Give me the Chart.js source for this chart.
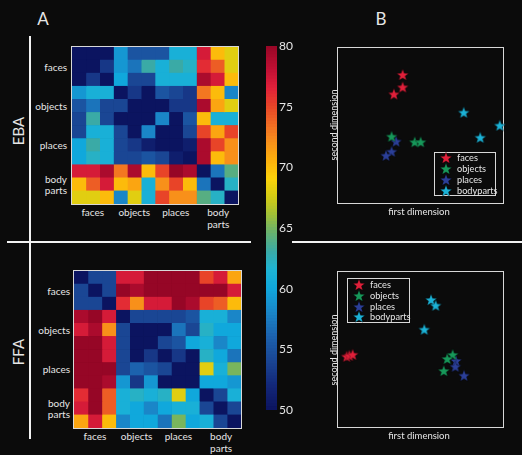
<!DOCTYPE html>
<html>
<head>
<meta charset="utf-8">
<script src="https://cdn.jsdelivr.net/npm/chart.js@4/dist/chart.umd.min.js"></script>
<style>
  body { margin: 0; background: #0b0b0b; }
  #fig { position: relative; width: 522px; height: 455px; background: #0b0b0b; overflow: hidden;
         font-family: Lato, "Open Sans", sans-serif; color: #e6e6e6; }
  canvas, .t, .ln, .box { position: absolute; }
  .t { white-space: nowrap; font-size: 10px; line-height: 1; }
  .ln { background: #f2f2f2; }
  .box { border: 1.5px solid #d8d8d8; box-sizing: border-box; }
</style>
</head>
<body>
<div id="fig"></div>
<script>
// category labels
const conditions = ['faces', 'objects', 'places', 'body parts'];
const seriesNames = ['faces', 'objects', 'places', 'bodyparts'];
const seriesColors = ['#e0203a', '#17985a', '#2b3f98', '#1cb2d6'];
const colorbarTicks = [50, 55, 60, 65, 70, 75, 80];

// EBA dissimilarity matrix (12 x 12)
const ebaMatrix = [
  [50, 50, 50, 59, 55, 55, 55, 61, 61, 77, 70, 68],
  [50, 50, 53, 59, 57, 63, 61, 63, 62, 76, 74, 68],
  [50, 53, 50, 60, 54, 54, 61, 61, 61, 79, 77, 70],
  [59, 61, 61, 50, 53, 50, 55, 54, 53, 73, 70, 58],
  [55, 57, 54, 54, 50, 50, 50, 53, 53, 79, 71, 68],
  [54, 63, 54, 50, 50, 50, 58, 50, 55, 70, 61, 61],
  [54, 61, 61, 54, 50, 58, 50, 50, 54, 75, 71, 75],
  [60, 63, 61, 54, 53, 51, 50, 50, 51, 79, 75, 72],
  [60, 62, 61, 54, 54, 55, 54, 51, 50, 79, 70, 72],
  [77, 77, 79, 73, 79, 70, 75, 80, 79, 50, 57, 64],
  [70, 74, 77, 70, 71, 61, 72, 75, 70, 57, 50, 62],
  [68, 68, 70, 58, 68, 61, 75, 72, 72, 64, 62, 50]
];

// FFA dissimilarity matrix (12 x 12)
const ffaMatrix = [
  [50, 54, 54, 77, 77, 80, 80, 80, 80, 75, 77, 71],
  [54, 50, 54, 80, 79, 80, 80, 80, 80, 80, 80, 77],
  [54, 54, 50, 76, 72, 77, 77, 80, 79, 75, 74, 70],
  [79, 80, 77, 50, 54, 54, 54, 54, 55, 61, 61, 58],
  [77, 79, 72, 54, 50, 50, 50, 57, 54, 62, 60, 60],
  [80, 80, 77, 54, 50, 50, 54, 55, 60, 61, 58, 60],
  [80, 80, 77, 54, 50, 53, 50, 53, 50, 62, 60, 57],
  [80, 80, 80, 54, 56, 55, 54, 50, 50, 68, 61, 65],
  [80, 80, 79, 59, 53, 59, 50, 50, 50, 60, 60, 59],
  [76, 80, 74, 61, 62, 61, 62, 68, 60, 50, 54, 61],
  [77, 80, 74, 61, 60, 58, 60, 61, 61, 54, 50, 54],
  [71, 77, 70, 58, 60, 60, 57, 65, 60, 61, 54, 50]
];

// MDS coordinates, EBA
const ebaFaces = [{x: 0.392, y: 0.826}, {x: 0.392, y: 0.746}, {x: 0.339, y: 0.701}];
const ebaObjects = [{x: 0.325, y: 0.428}, {x: 0.465, y: 0.392}, {x: 0.501, y: 0.392}];
const ebaPlaces = [{x: 0.352, y: 0.396}, {x: 0.325, y: 0.331}, {x: 0.291, y: 0.305}];
const ebaBodyparts = [{x: 0.762, y: 0.583}, {x: 0.862, y: 0.421}, {x: 0.98, y: 0.499}];

// MDS coordinates, FFA
const ffaFaces = [{x: 0.053, y: 0.454}, {x: 0.069, y: 0.46}, {x: 0.089, y: 0.466}];
const ffaObjects = [{x: 0.695, y: 0.465}, {x: 0.662, y: 0.439}, {x: 0.641, y: 0.361}];
const ffaPlaces = [{x: 0.715, y: 0.426}, {x: 0.711, y: 0.389}, {x: 0.764, y: 0.331}];
const ffaBodyparts = [{x: 0.564, y: 0.819}, {x: 0.592, y: 0.783}, {x: 0.523, y: 0.628}];

// jet-like colormap stops
const cmapValues = [50, 52, 54, 56, 58, 60, 61.5, 63, 64.5, 66, 67.5, 69, 70.5, 72, 73.5, 75, 76.5, 78, 80];
const cmapColors = ['#0b1460', '#13287a', '#1a4694', '#1c62ae', '#1a86c8', '#10a8dc', '#1eb4d4',
  '#3aaaa6', '#66b070', '#a0c038', '#d4cc14', '#fcd20a', '#fcb00c', '#f8901a', '#f06a24',
  '#e84428', '#e0203a', '#c01034', '#960626'];

const fig = document.getElementById('fig');

function hexToRgb(h) {
  return [parseInt(h.slice(1, 3), 16), parseInt(h.slice(3, 5), 16), parseInt(h.slice(5, 7), 16)];
}

function colormap(v) {
  if (v <= cmapValues[0]) return cmapColors[0];
  for (let i = 1; i < cmapValues.length; i++) {
    if (v <= cmapValues[i]) {
      const t = (v - cmapValues[i - 1]) / (cmapValues[i] - cmapValues[i - 1]);
      const a = hexToRgb(cmapColors[i - 1]), b = hexToRgb(cmapColors[i]);
      const c = a.map((x, k) => Math.round(x + (b[k] - x) * t));
      return `rgb(${c[0]},${c[1]},${c[2]})`;
    }
  }
  return cmapColors[cmapColors.length - 1];
}

function addText(txt, x, y, opts = {}) {
  const d = document.createElement('div');
  d.className = 't';
  d.textContent = txt;
  d.style.left = x + 'px';
  d.style.top = y + 'px';
  if (opts.size) d.style.fontSize = opts.size + 'px';
  let tr = opts.align === 'right' ? 'translate(-100%,-50%)' : opts.align === 'left' ? 'translate(0,-50%)' : 'translate(-50%,-50%)';
  if (opts.rotate) tr += ' rotate(-90deg)';
  d.style.transform = tr;
  fig.appendChild(d);
  return d;
}

function addLine(x, y, w, h) {
  const d = document.createElement('div');
  d.className = 'ln';
  Object.assign(d.style, { left: x + 'px', top: y + 'px', width: w + 'px', height: h + 'px' });
  fig.appendChild(d);
}

function addBox(x, y, w, h) {
  const d = document.createElement('div');
  d.className = 'box';
  Object.assign(d.style, { left: x + 'px', top: y + 'px', width: w + 'px', height: h + 'px' });
  fig.appendChild(d);
}

function addCanvas(x, y, w, h) {
  const c = document.createElement('canvas');
  c.width = w; c.height = h;
  c.style.left = x + 'px'; c.style.top = y + 'px';
  fig.appendChild(c);
  return c.getContext('2d');
}

// heatmap drawn as horizontal stacked bars: one dataset per column
function heatmap(matrix, x, y, w, h) {
  addBox(x - 1, y - 1, w + 2, h + 2);
  const rows = matrix.map((_, i) => 'r' + i);
  const datasets = matrix[0].map((_, j) => ({
    data: rows.map(() => 1),
    backgroundColor: matrix.map(r => colormap(r[j])),
    borderWidth: 0,
    barPercentage: 1,
    categoryPercentage: 1
  }));
  new Chart(addCanvas(x, y, w, h), {
    type: 'bar',
    data: { labels: rows, datasets },
    options: {
      indexAxis: 'y',
      responsive: false,
      animation: false,
      layout: { padding: 0 },
      plugins: { legend: { display: false }, tooltip: { enabled: false } },
      scales: {
        x: { type: 'linear', min: 0, max: 12, stacked: true, display: false },
        y: { stacked: true, display: false }
      }
    }
  });
}

function starImage(color) {
  const c = document.createElement('canvas');
  c.width = 14; c.height = 14;
  const g = c.getContext('2d');
  g.beginPath();
  for (let i = 0; i < 10; i++) {
    const r = i % 2 === 0 ? 6.2 : 2.6;
    const a = -Math.PI / 2 + i * Math.PI / 5;
    const px = 7 + r * Math.cos(a), py = 7.3 + r * Math.sin(a);
    i === 0 ? g.moveTo(px, py) : g.lineTo(px, py);
  }
  g.closePath();
  g.fillStyle = color;
  g.fill();
  g.lineWidth = 0.8;
  g.strokeStyle = 'rgba(0,0,0,0.35)';
  g.stroke();
  return c;
}

const stars = seriesColors.map(starImage);

function scatter(groups, x, y, w, h) {
  addBox(x - 1, y - 1, w + 2, h + 2);
  const pad = 8;
  new Chart(addCanvas(x - pad, y - pad, w + 2 * pad, h + 2 * pad), {
    type: 'scatter',
    data: {
      datasets: groups.map((pts, i) => ({
        label: seriesNames[i],
        data: pts,
        pointStyle: stars[i],
        clip: false
      }))
    },
    options: {
      responsive: false,
      animation: false,
      layout: { padding: pad },
      plugins: { legend: { display: false }, tooltip: { enabled: false } },
      scales: {
        x: { type: 'linear', min: 0, max: 1, display: false },
        y: { type: 'linear', min: 0, max: 1, display: false }
      }
    }
  });
}

function legend(x, y, w, h, starX, textX, rowYs) {
  addBox(x, y, w, h);
  seriesNames.forEach((n, i) => {
    const img = document.createElement('img');
    img.src = stars[i].toDataURL();
    img.style.position = 'absolute';
    img.style.left = (starX - 7) + 'px';
    img.style.top = (rowYs[i] - 7) + 'px';
    fig.appendChild(img);
    addText(n, textX, rowYs[i], { align: 'left', size: 9.2 });
  });
}

// colorbar: floating bars stacked on one category
function colorbar(x, y, w, h) {
  const step = 0.25;
  const segs = [];
  for (let v = 50; v < 80; v += step) segs.push(v);
  const padTop = 10, padBottom = 10, padLeft = 4, axisW = 30;
  new Chart(addCanvas(x - padLeft, y - padTop, padLeft + w + axisW, h + padTop + padBottom), {
    type: 'bar',
    data: {
      labels: ['c'],
      datasets: segs.map(v => ({
        data: [[v, v + step + 0.05]],
        backgroundColor: colormap(v + step / 2),
        borderWidth: 0,
        grouped: false,
        barPercentage: 1,
        categoryPercentage: 1
      }))
    },
    options: {
      responsive: false,
      animation: false,
      layout: { padding: { top: padTop, bottom: padBottom, left: padLeft, right: 0 } },
      plugins: { legend: { display: false }, tooltip: { enabled: false } },
      scales: {
        x: { display: false },
        y: {
          position: 'right', min: 50, max: 80,
          afterFit: s => { s.width = axisW; },
          afterBuildTicks: s => { s.ticks = colorbarTicks.map(v => ({ value: v })); },
          grid: { display: false, drawTicks: false },
          border: { display: false },
          ticks: { color: '#e6e6e6', padding: 2, font: { family: 'Lato', size: 12 } }
        }
      }
    }
  });
}

// frame lines and panel letters
addLine(29, 36, 2, 403);
addLine(7, 241, 244, 2);
addLine(292, 241, 230, 2);
addText('A', 43, 18, { size: 17 });
addText('B', 381, 18, { size: 17 });
addText('EBA', 18, 131, { size: 15, rotate: true });
addText('FFA', 18, 352, { size: 15, rotate: true });

// panel A
heatmap(ebaMatrix, 72, 47, 166, 157);
heatmap(ffaMatrix, 74, 271, 167, 157);

function matrixLabels(bx, by, bw, bh, rowRight, colY) {
  const ch = bh / 12, cw = bw / 12;
  conditions.forEach((c, k) => {
    const cy = by + ch * (3 * k + 1.5);
    const cx = bx + cw * (3 * k + 1.5);
    if (c === 'body parts') {
      addText('body', rowRight, cy - 5.5, { align: 'right' });
      addText('parts', rowRight, cy + 5.5, { align: 'right' });
      addText('body', cx + 1, colY);
      addText('parts', cx + 1, colY + 11.5);
    } else {
      addText(c, rowRight, cy, { align: 'right' });
      addText(c, cx, colY);
    }
  });
}
matrixLabels(72, 47, 166, 157, 67, 212);
matrixLabels(74, 271, 167, 157, 70, 436);

colorbar(266, 46, 11, 364);

// panel B
scatter([ebaFaces, ebaObjects, ebaPlaces, ebaBodyparts], 338, 48, 165, 155);
scatter([ffaFaces, ffaObjects, ffaPlaces, ffaBodyparts], 338, 272, 165, 155);
legend(434, 152, 62, 44, 446, 457, [158, 169, 180, 191]);
legend(347, 278, 63, 45, 359, 370, [285, 296, 306.5, 317]);
addText('first dimension', 419, 212, { size: 9.5 });
addText('first dimension', 419, 436, { size: 9.5 });
addText('second dimension', 333, 125, { size: 9, rotate: true });
addText('second dimension', 333, 350, { size: 9, rotate: true });
</script>
</body>
</html>
